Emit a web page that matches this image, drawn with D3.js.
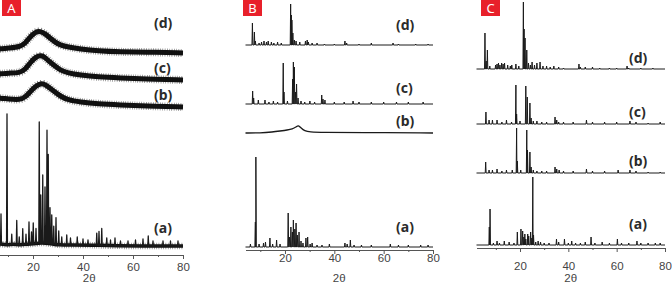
<!DOCTYPE html>
<html>
<head>
<meta charset="utf-8">
<script src="https://cdn.jsdelivr.net/npm/d3@7/dist/d3.min.js"></script>
<style>
body { margin: 0; background: #fff; }
svg { display: block; font-family: "Liberation Sans", Arial, sans-serif; }
.axis path, .axis line { stroke: #555; }
.axis text { fill: #444; font-size: 11.5px; font-family: "Liberation Sans", Arial, sans-serif; }
.tlabel { font-family: "Noto Sans", sans-serif; font-weight: bold; font-size: 14px; fill: #2b2b2b; }
</style>
</head>
<body>
<svg width="672" height="283"></svg>
<script>
// 2θ ticks
var majorTicks = [20, 40, 60, 80];
var minorTicks = [10, 30, 50, 70];
var traceNames = ["(a)", "(b)", "(c)", "(d)"];

// ---- Panel A ----
// (a) crystalline: background and peaks, [2θ, intensity a.u.]
var bgA_a = [[5, 2], [8, 2], [10, 1], [12, 2], [15, 1], [18, 2], [20, 2], [22, 3], [25, 3], [28, 2], [30, 1], [35, 1], [45, 1], [50, 0], [80, 0]];
var peaksA_a = [[7.2, 30], [9.6, 131], [11.5, 10], [13.5, 24], [14.5, 8], [15.9, 16], [17.2, 10], [18.4, 22], [19.4, 12],
  [20.1, 21], [21.2, 15], [22.5, 121], [23.1, 48], [23.9, 68], [24.8, 56], [25.6, 113], [26.1, 89], [26.8, 36], [27.5, 29],
  [28.3, 18], [29.2, 27], [30.3, 14], [31.5, 8], [33.5, 10], [35, 7], [37.7, 8], [40, 6], [42, 5], [45.5, 12], [46.4, 14],
  [47.5, 17], [49.5, 8], [51, 6], [52.8, 8], [55, 5], [58, 5], [61, 6], [64, 7], [66.1, 10], [68, 5], [72, 5], [75, 5], [78, 5]];
// (b)-(d) amorphous halos
var haloA_b = [[5, 9], [6.8, 9], [10, 8], [14.8, 7], [17, 10], [18.8, 15], [21, 21], [23.6, 24], [25, 22], [26.8, 19],
  [28.8, 15], [30.8, 11], [34, 7], [38.8, 5], [46, 3], [54.8, 2], [65, 1], [80, 0]];
var haloA_c = [[5, 6], [6.8, 6], [10, 7], [14.8, 7], [17, 11], [18.8, 17], [21, 23], [23.4, 25], [25, 22], [26.8, 18],
  [28.8, 14], [30.8, 10], [34, 7], [38.8, 5], [46, 3], [54.8, 2], [65, 1], [80, 0]];
var haloA_d = [[5, 4], [6.8, 4], [10, 5], [14.8, 6], [17, 10], [18.8, 16], [21, 21], [22.8, 22], [25, 19], [26.8, 15],
  [28.8, 11], [30.8, 8], [34, 6], [38.8, 4], [46, 2], [54.8, 1], [65, 1], [80, 0]];

// ---- Panel B ----
var peaksB_a = [[6, 3], [8.0, 25], [8.2, 90], [9.5, 3], [11.3, 4], [12.1, 5], [13.9, 9], [15, 3], [16.6, 7], [18, 3],
  [21.3, 34], [21.8, 10], [22.4, 20], [23, 15], [23.4, 27], [24, 18], [24.5, 24], [25, 12], [25.7, 15], [26.5, 6],
  [27.3, 4], [28.5, 9], [29.2, 10], [30.2, 3], [31, 4], [33, 2], [35, 2], [38, 3], [44.3, 4], [45.2, 3], [46.5, 7],
  [48, 2], [51, 2], [55, 2], [62.7, 3], [66, 2], [70, 2], [75, 2], [78, 2]];
var haloB_b = [[4, 0], [10, 0], [15, 1], [18, 2], [21, 3], [23, 4], [24.5, 6], [25.4, 8], [26.5, 5], [28, 2], [30, 1],
  [35, 0.5], [50, 0.5], [80, 0]];
var peaksB_c = [[6.9, 13], [7.3, 6], [9.2, 4], [11.9, 4], [13.5, 2], [15.3, 3], [17, 2], [19.3, 41], [19.6, 12], [21, 3],
  [23.1, 25], [23.4, 42], [23.8, 37], [24.3, 12], [24.7, 20], [25.3, 6], [26.5, 3], [28, 2], [30.1, 3], [32, 2],
  [34.9, 9], [35.4, 5], [36.2, 4], [40, 2], [44, 2], [47.6, 3], [50, 2], [55, 2], [60, 2], [65.2, 2], [70, 2], [76, 2]];
var peaksB_d = [[6.8, 22], [7.6, 13], [8, 4], [9.5, 2], [10.5, 3], [11.5, 4], [12.5, 3], [13.2, 4], [14.5, 3], [15.5, 2],
  [17, 3], [18.5, 2], [22.3, 41], [22.6, 30], [22.8, 25], [23.2, 12], [23.8, 5], [24.5, 4], [26, 3], [28.3, 4], [29, 5],
  [29.5, 3], [31, 2], [33, 2], [36, 1], [40, 1], [44.3, 4], [45, 2], [50, 1], [55, 2], [63.8, 2], [66, 1], [73, 1], [78, 1]];

// ---- Panel C ----
var peaksC_a = [[7.3, 18], [7.6, 36], [9, 2], [10.5, 4], [11.5, 2], [13.5, 4], [15.5, 3], [17.5, 2], [18.9, 13], [20.4, 16],
  [21.1, 14], [21.6, 8], [22, 11], [22.4, 6], [23.2, 11], [23.6, 9], [24.4, 13], [24.9, 7], [25.3, 68], [25.6, 10],
  [26.5, 3], [27.5, 4], [28.5, 3], [30, 2], [32, 2], [35.1, 6], [36, 3], [38.4, 6], [40, 2], [41.4, 4], [43, 2], [45, 2],
  [47, 3], [49.4, 8], [51, 2], [54, 3], [57, 2], [60.3, 6], [62, 2], [65, 2], [68.4, 4], [70, 2], [73, 2], [76, 2], [78, 2]];
var peaksC_b = [[5.8, 11], [7.2, 3], [8.6, 3], [10.5, 4], [12.5, 2], [14.4, 3], [16.8, 3], [18.6, 45], [18.9, 12], [20.3, 3],
  [22.8, 43], [23.1, 23], [24.1, 21], [24.6, 6], [25.5, 3], [27, 2], [29, 2], [31, 2], [34.5, 6], [35.2, 4], [36.2, 3],
  [38, 2], [42, 2], [47.5, 4], [50, 2], [55, 2], [60.6, 3], [65.5, 3], [68, 2], [73, 1], [78, 1]];
var peaksC_c = [[5.9, 12], [7.2, 4], [8.6, 4], [10.5, 4], [12.5, 2], [14.4, 4], [16.5, 2], [18.3, 39], [18.6, 10], [20, 3],
  [22.4, 38], [23, 27], [24.1, 21], [24.6, 6], [25.5, 3], [27, 3], [29, 2], [31, 2], [34.5, 7], [35.2, 4], [36, 2],
  [38, 2], [42, 2], [47.5, 4], [50, 2], [55, 2], [60, 2], [65.5, 3], [68, 2], [73, 1], [78, 2]];
var peaksC_d = [[5.5, 36], [6, 8], [6.5, 19], [7.5, 3], [9.9, 4], [10.5, 5], [11.1, 6], [11.7, 4], [12.4, 6], [13, 5],
  [13.6, 6], [14.9, 4], [16, 3], [16.6, 4], [18.3, 5], [19.5, 3], [21.4, 67], [21.7, 40], [22.1, 31], [22.8, 19],
  [23.5, 6], [24.3, 4], [25, 7], [26, 4], [27, 6], [28.3, 7], [29.5, 3], [31, 3], [32.5, 2], [34, 3], [36, 2], [38, 1],
  [44.4, 5], [45, 2], [47, 2], [50, 2], [53, 1], [57, 1], [60, 1], [64.3, 3], [65, 1], [70, 1], [75, 1]];

var svg = d3.select("svg");

// x scales, one per panel
var xA = d3.scaleLinear().domain([5, 80]).range([-4.5, 183]);
var xB = d3.scaleLinear().domain([4, 80]).range([245.5, 433]);
var xC = d3.scaleLinear().domain([2, 80]).range([476.5, 665]);

function flat(x) {
    return [[x.domain()[0], 0], [x.domain()[1], 0]];
}

var panels = [
    { name: "A", x: xA, axisY: 255, pad: 4, badgeX: 2, labelX: 154, traces: [
        { bg: bgA_a, peaks: peaksA_a, base: 246, label: 0, ly: 233, width: 3.5 },
        { bg: haloA_b, base: 107, label: 1, ly: 100, halo: true, width: 5 },
        { bg: haloA_c, base: 80, label: 2, ly: 73, halo: true, width: 5 },
        { bg: haloA_d, base: 53, label: 3, ly: 28, halo: true, width: 5 }
    ] },
    { name: "B", x: xB, axisY: 250, pad: 0, badgeX: 243, labelX: 396, traces: [
        { bg: flat(xB), peaks: peaksB_a, base: 247, label: 0, ly: 232 },
        { bg: haloB_b, base: 133, label: 1, ly: 126, halo: true, width: 1.3 },
        { bg: flat(xB), peaks: peaksB_c, base: 104, label: 2, ly: 93 },
        { bg: flat(xB), peaks: peaksB_d, base: 45, label: 3, ly: 30 }
    ] },
    { name: "C", x: xC, axisY: 248, pad: 10, badgeX: 481, labelX: 629, traces: [
        { bg: flat(xC), peaks: peaksC_a, base: 245, label: 0, ly: 229 },
        { bg: flat(xC), peaks: peaksC_b, base: 173, label: 1, ly: 166 },
        { bg: flat(xC), peaks: peaksC_c, base: 124, label: 2, ly: 117 },
        { bg: flat(xC), peaks: peaksC_d, base: 69, label: 3, ly: 63 }
    ] }
];

// background level at a given 2θ
function bgAt(bg, t) {
    for (var i = 1; i < bg.length; i++) {
        if (t <= bg[i][0]) {
            var f = (t - bg[i - 1][0]) / (bg[i][0] - bg[i - 1][0]);
            return bg[i - 1][1] + f * (bg[i][1] - bg[i - 1][1]);
        }
    }
    return bg[bg.length - 1][1];
}

// background points plus a narrow spike for each listed peak
function tracePoints(bg, peaks, w) {
    var pts = bg.filter(function (b) {
        return !peaks.some(function (p) { return Math.abs(p[0] - b[0]) < w; });
    });
    peaks.forEach(function (p) {
        var b = bgAt(bg, p[0]);
        pts.push([p[0] - w, b], [p[0], b + p[1]], [p[0] + w, b]);
    });
    pts.sort(function (a, b) { return a[0] - b[0]; });
    return pts;
}

// thick band with a grainy edge, for the noisy traces of panel A
function band(g, d, w) {
    g.append("path")
        .attr("d", d)
        .attr("fill", "none")
        .attr("stroke", "#111")
        .attr("stroke-width", w)
        .attr("stroke-linejoin", "round");
    g.append("path")
        .attr("d", d)
        .attr("fill", "none")
        .attr("stroke", "#111")
        .attr("stroke-opacity", 0.55)
        .attr("stroke-width", w + 3)
        .attr("stroke-dasharray", "0.7 1.6");
}

panels.forEach(function (p) {
    var g = svg.append("g");

    // axis
    g.append("g").attr("class", "axis")
        .attr("transform", "translate(0," + p.axisY + ")")
        .call(d3.axisBottom(p.x).tickValues(majorTicks).tickSize(4).tickSizeOuter(0).tickPadding(p.pad));
    g.append("g").attr("class", "axis")
        .attr("transform", "translate(0," + p.axisY + ")")
        .call(d3.axisBottom(p.x).tickValues(minorTicks).tickSize(2).tickSizeOuter(0).tickFormat(""))
        .select(".domain").remove();

    g.append("text")
        .attr("x", (p.x.range()[0] + p.x.range()[1]) / 2)
        .attr("y", 282)
        .attr("text-anchor", "middle")
        .style("font-size", "11.5px")
        .style("fill", "#444")
        .text("2θ");

    // traces
    p.traces.forEach(function (t) {
        var y = d3.scaleLinear().domain([0, 100]).range([t.base, t.base - 100]);
        var line = d3.line()
            .x(function (d) { return p.x(d[0]); })
            .y(function (d) { return y(d[1]); });
        if (t.halo) {
            var d = line.curve(d3.curveBasis)(t.bg);
            if (t.width > 2) {
                band(g, d, t.width);
            } else {
                g.append("path")
                    .attr("d", d)
                    .attr("fill", "none")
                    .attr("stroke", "#1a1a1a")
                    .attr("stroke-width", t.width);
            }
        } else {
            if (t.width) {
                band(g, line.curve(d3.curveBasis)(t.bg), t.width);
            }
            g.append("path")
                .attr("d", line.curve(d3.curveLinear)(tracePoints(t.bg, t.peaks, 0.18)))
                .attr("fill", "none")
                .attr("stroke", "#1a1a1a")
                .attr("stroke-width", t.width ? 1.3 : 1)
                .attr("stroke-linejoin", "round");
        }
        g.append("text")
            .attr("class", "tlabel")
            .attr("x", p.labelX)
            .attr("y", t.ly)
            .text(traceNames[t.label]);
    });

    // panel badge
    g.append("rect")
        .attr("x", p.badgeX).attr("y", 0)
        .attr("width", 19).attr("height", 16)
        .attr("fill", "#e8202a");
    g.append("text")
        .attr("x", p.badgeX + 9.5).attr("y", 13)
        .attr("text-anchor", "middle")
        .style("fill", "#fff")
        .style("font-size", "13px")
        .style("font-family", "'Noto Sans', sans-serif")
        .text(p.name);
});
</script>
</body>
</html>
